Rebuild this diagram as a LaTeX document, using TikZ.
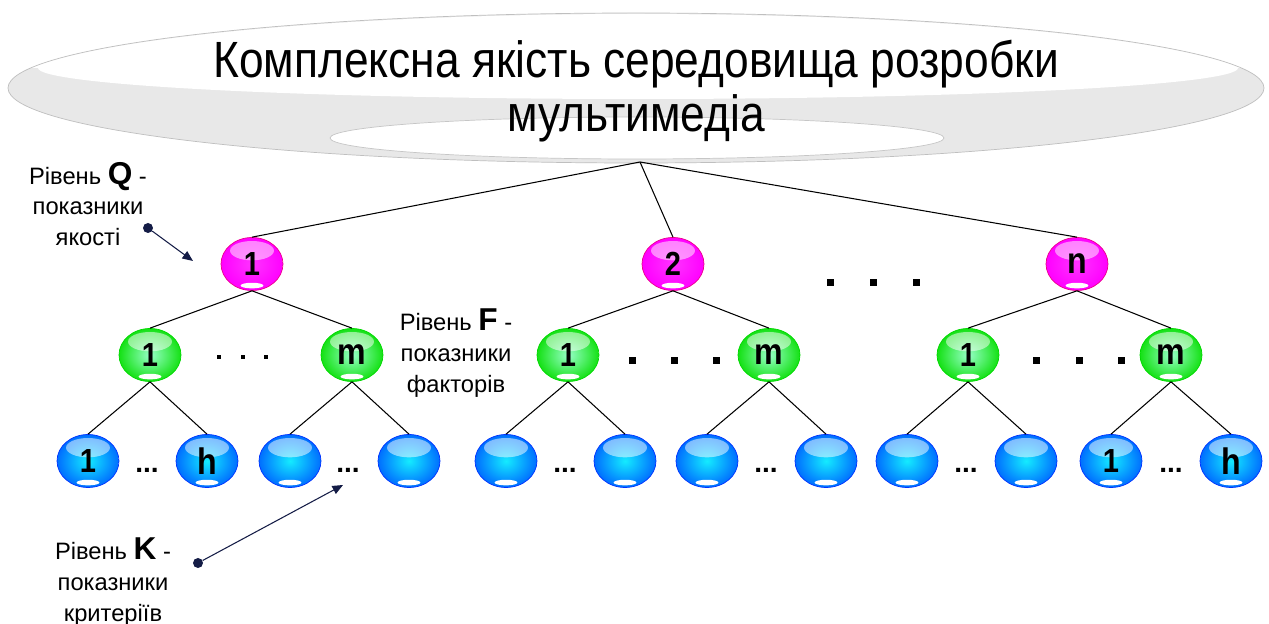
\documentclass[tikz,border=0pt]{standalone}
\usepackage{fontspec}
\setmainfont{Liberation Sans}
\newfontfamily\narrowfont[FakeStretch=0.87]{Liberation Sans}
\usepackage{tikz}
\usetikzlibrary{shapes.geometric,arrows.meta}
\definecolor{navy}{RGB}{20,28,70}
\def\sqdot(#1,#2)(#3){\fill ({#1-#3/2},{#2-#3/2}) rectangle ++(#3,#3);}
\newcommand\lvlsym[1]{{\fontsize{18}{17}\selectfont\bfseries #1}}
\newcommand\balllet[1]{{\fontsize{21}{21}\selectfont #1}}

\tikzset{
	ball/.style={ellipse, inner sep=0pt, minimum width=1.24cm, minimum height=1.06cm,
		font=\narrowfont\fontsize{19}{19}\selectfont\bfseries,
		path picture={
			\fill[white, opacity=0.5] ([yshift=-7.5pt]path picture bounding box.north) ellipse [x radius=12.5pt, y radius=5.5pt];
			\fill[white] ([yshift=2.8pt]path picture bounding box.south) ellipse [x radius=6.5pt, y radius=1.6pt];
		}},
	qball/.style={ball, draw=magenta, inner color=magenta!80!white, outer color=magenta},
	fball/.style={ball, draw=green!85!black, inner color={rgb,255:red,150;green,255;blue,200}, outer color={rgb,255:red,20;green,225;blue,20}},
	kball/.style={ball, draw=blue!80!cyan, inner color={rgb,255:red,20;green,235;blue,255}, outer color={rgb,255:red,0;green,110;blue,255}},
	lvl/.style={align=center, font=\fontsize{13.5}{17.5}\selectfont},
	bullet/.style={circle, fill=navy, inner sep=0pt, minimum size=0.2cm},
	pointer/.style={draw=navy, line width=0.6pt, -{Triangle[length=6pt,width=5pt]}},
	link/.style={line width=0.6pt},
	more/.style={font=\fontsize{16}{16}\selectfont\bfseries, anchor=base}
}

\begin{document}
\begin{tikzpicture}[x=0.02cm, y=-0.02cm]
	%%%%% START %%%%%
	\useasboundingbox[fill=white] (0,0) rectangle (1269,624);
	
	\draw[fill=gray!18, draw=gray!50, line width=0.4pt] (636,88) ellipse [x radius=628, y radius=75];
	\begin{scope}
		\clip (636,88) ellipse [x radius=627, y radius=74];
		\fill[white] (0,0) -- (1269,0) -- (1269,68) -- (1238,68)
			arc [start angle=0, end angle=180, x radius=600, y radius=31] -- (0,68) -- cycle;
	\end{scope}
	\draw[fill=white, draw=gray!45, line width=0.4pt] (637,138) ellipse [x radius=307, y radius=21];
	\node[font=\narrowfont\fontsize{29}{31}\selectfont, align=center] (title) at (636,91) {Комплексна якість середовища розробки\\мультимедіа};
	\coordinate (apex) at (640,162);
	
	\node[qball] (q1) at (252,264) {1};
	\node[qball] (q2) at (673,264) {2};
	\node[qball] (qn) at (1077,264) {\balllet{n}};
	\draw[link] (apex) -- (q1.north);
	\draw[link] (apex) -- (q2.north);
	\draw[link] (apex) -- (qn.north);
	\sqdot(830,283)(7) \sqdot(873,283)(7) \sqdot(916,283)(7)
	
	\node[fball] (f11) at (150,355) {1};
	\node[fball] (f1m) at (352,355) {\balllet{m}};
	\node[fball] (f21) at (568,355) {1};
	\node[fball] (f2m) at (769,355) {\balllet{m}};
	\node[fball] (f31) at (968,355) {1};
	\node[fball] (f3m) at (1171,355) {\balllet{m}};
	\draw[link] (q1.south) -- (f11.north);
	\draw[link] (q1.south) -- (f1m.north);
	\draw[link] (q2.south) -- (f21.north);
	\draw[link] (q2.south) -- (f2m.north);
	\draw[link] (qn.south) -- (f31.north);
	\draw[link] (qn.south) -- (f3m.north);
	\sqdot(219,357)(4) \sqdot(243,357)(4) \sqdot(266,357)(4)
	\sqdot(632,361)(7) \sqdot(674,361)(7) \sqdot(716,361)(7)
	\sqdot(1036,361)(7) \sqdot(1079,361)(7) \sqdot(1121,361)(7)
	
	\node[kball] (k1) at (88,461) {1};
	\node[kball] (k2) at (207,461) {\balllet{h}};
	\node[kball] (k3) at (290,461) {};
	\node[kball] (k4) at (409,461) {};
	\node[kball] (k5) at (506,461) {};
	\node[kball] (k6) at (625,461) {};
	\node[kball] (k7) at (707,461) {};
	\node[kball] (k8) at (826,461) {};
	\node[kball] (k9) at (907,461) {};
	\node[kball] (k10) at (1026,461) {};
	\node[kball] (k11) at (1111,461) {1};
	\node[kball] (k12) at (1231,461) {\balllet{h}};
	\draw[link] (f11.south) -- (k1.north);
	\draw[link] (f11.south) -- (k2.north);
	\draw[link] (f1m.south) -- (k3.north);
	\draw[link] (f1m.south) -- (k4.north);
	\draw[link] (f21.south) -- (k5.north);
	\draw[link] (f21.south) -- (k6.north);
	\draw[link] (f2m.south) -- (k7.north);
	\draw[link] (f2m.south) -- (k8.north);
	\draw[link] (f31.south) -- (k9.north);
	\draw[link] (f31.south) -- (k10.north);
	\draw[link] (f3m.south) -- (k11.north);
	\draw[link] (f3m.south) -- (k12.north);
	\node[more] (m1) at (147,473) {...};
	\node[more] (m2) at (348,473) {...};
	\node[more] (m3) at (565,473) {...};
	\node[more] (m4) at (766,473) {...};
	\node[more] (m5) at (966,473) {...};
	\node[more] (m6) at (1171,473) {...};
	
	\node[lvl] (qlab) at (88,204) {Рівень \lvlsym{Q} -\\показники\\якості};
	\node[bullet] (qdot) at (148,228) {};
	\coordinate (qtip) at (193,261);
	\draw[pointer] (qdot) -- (qtip);
	
	\node[lvl] (flab) at (456,353) {Рівень \lvlsym{F} -\\показники\\факторів};
	
	\node[lvl] (klab) at (113,582) {Рівень \lvlsym{K} -\\показники\\критеріїв};
	\node[bullet] (kdot) at (198,563) {};
	\coordinate (ktip) at (343,485);
	\draw[pointer] (kdot) -- (ktip);
	
	%%%%% END %%%%%
\end{tikzpicture}
\end{document}
